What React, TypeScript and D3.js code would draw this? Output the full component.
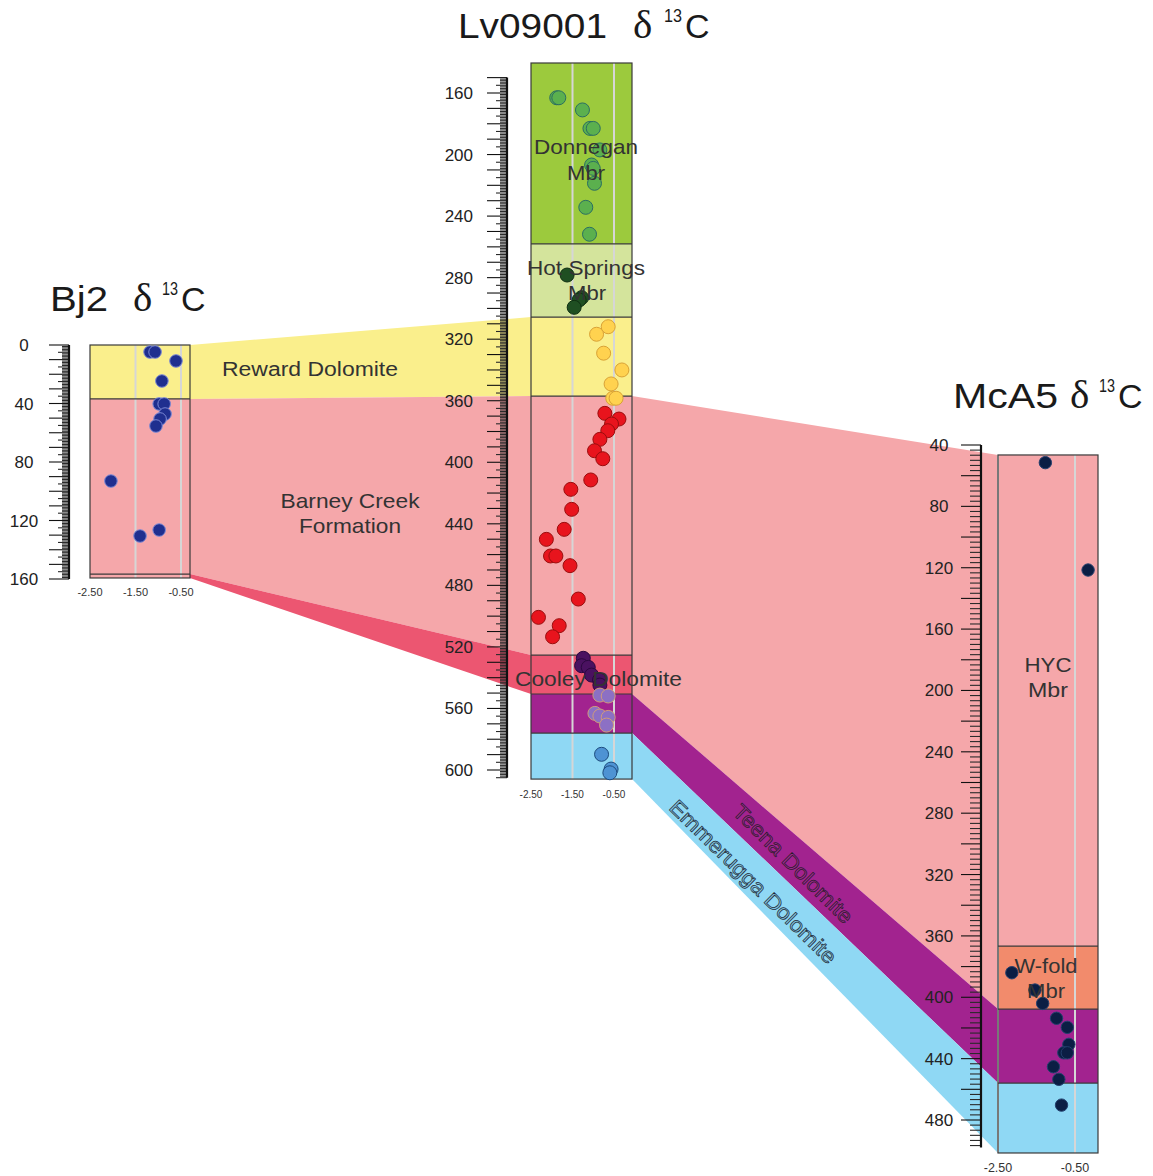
import React from 'react'
import * as d3 from 'd3'

// ---- data ----
const isoTicks = [-2.5, -1.5, -0.5]
const mcaIsoTicks = [-2.5, -0.5]
const bj2DepthTicks = [0, 40, 80, 120, 160]
const lvDepthTicks = [160, 200, 240, 280, 320, 360, 400, 440, 480, 520, 560, 600]
const mcaDepthTicks = [40, 80, 120, 160, 200, 240, 280, 320, 360, 400, 440, 480]

// unit tops/bases (depth, m)
const bj2Units = [
  { unit: 'reward', top: 0, base: 36.9 },
  { unit: 'barney', top: 36.9, base: 156.6 },
  { unit: 'cooley', top: 156.6, base: 159.3 },
]
const lvUnits = [
  { unit: 'donnegan', top: 140.5, base: 258.1 },
  { unit: 'hotsprings', top: 258.1, base: 305.6 },
  { unit: 'reward', top: 305.6, base: 357 },
  { unit: 'barney', top: 357, base: 525.3 },
  { unit: 'cooley', top: 525.3, base: 550.6 },
  { unit: 'teena', top: 550.6, base: 576 },
  { unit: 'emmerugga', top: 576, base: 605.9 },
]
const mcaUnits = [
  { unit: 'hyc', top: 46.5, base: 366.6 },
  { unit: 'wfold', top: 366.6, base: 407.7 },
  { unit: 'teena', top: 407.7, base: 455.9 },
  { unit: 'emmerugga', top: 455.9, base: 501.5 },
]

// correlation bands: [top, base] in left column -> [top, base] in right column
const leftBands = [
  { unit: 'reward', from: [0, 36.9], to: [305.6, 357] },
  { unit: 'barney', from: [36.9, 156.6], to: [357, 525.3] },
  { unit: 'cooley', from: [156.6, 159.3], to: [525.3, 550.6] },
]
const rightBands = [
  { unit: 'barney', from: [357, 550.6], to: [46.5, 407.7] },
  { unit: 'teena', from: [550.6, 576], to: [407.7, 455.9] },
  { unit: 'emmerugga', from: [576, 605.9], to: [455.9, 501.5] },
]

// samples: [depth, d13C]
const bj2Samples = [
  [4.8, -1.18], [4.8, -1.07], [10.9, -0.61], [24.6, -0.92], [40.3, -0.98], [40.3, -0.87],
  [47.2, -0.85], [50.6, -0.96], [55.4, -1.05], [93, -2.04], [126.5, -0.98], [130.6, -1.4],
]
const lvDonnegan = [
  [163.1, -1.88], [163.1, -1.83], [171, -1.26], [183, -1.08], [183, -1.0], [197, -0.84],
  [206.8, -1.04], [209, -1.0], [218.7, -0.97], [234.3, -1.18], [251.8, -1.09],
]
const lvHotSprings = [[278.3, -1.63], [293, -1.28], [294.5, -1.34], [299.3, -1.46]]
const lvReward = [
  [311.9, -0.64], [316.8, -0.92], [329.1, -0.75], [340, -0.31], [349.1, -0.57], [358.4, -0.53], [358.4, -0.45],
]
const lvBarney = [
  [368.2, -0.72], [371.9, -0.38], [375.1, -0.56], [379.5, -0.65], [385.1, -0.84], [392.5, -0.97],
  [397.7, -0.77], [411.5, -1.06], [417.6, -1.54], [430.6, -1.52], [443.6, -1.7], [450.1, -2.13],
  [460.9, -2.03], [460.9, -1.9], [467.2, -1.56], [488.9, -1.36], [500.8, -2.32], [506.2, -1.82], [513.4, -1.98],
]
const lvCooley = [[527.4, -1.24], [532.2, -1.28], [533.3, -1.12], [538.3, -1.04], [541.5, -0.85], [544.8, -0.84]]
const lvTeena = [[551.3, -0.84], [551.9, -0.64], [563.2, -0.96], [564.9, -0.84], [565.8, -0.64], [570.8, -0.68]]
const lvEmmerugga = [[589.8, -0.8], [599.4, -0.57], [601.8, -0.6]]
const mcaSamples = [
  [51.5, -1.27], [121.5, -0.16], [384, -2.14], [395.3, -1.54], [404, -1.34], [413.7, -0.98],
  [419.6, -0.7], [430.7, -0.66], [436.2, -0.79], [436.2, -0.7], [445.3, -1.06], [453.5, -0.92], [470.3, -0.85],
]

// ---- styles ----
const unitFill = {
  donnegan: '#9cca3d',
  hotsprings: '#d4e49c',
  reward: '#faef8c',
  barney: '#f5a7aa',
  hyc: '#f5a7aa',
  cooley: '#ec5671',
  teena: '#a2238f',
  emmerugga: '#8fd8f4',
  wfold: '#f28b6c',
}
const dotStyle = {
  bj2: { fill: '#1f2f8f', stroke: '#7d8ad6' },
  donnegan: { fill: '#5bb04e', stroke: '#2b6e62' },
  hotsprings: { fill: '#1f4f22', stroke: '#0f2f12' },
  reward: { fill: '#ffd24f', stroke: '#d9a236' },
  barney: { fill: '#e8141d', stroke: '#9a0d0d' },
  cooley: { fill: '#4a1160', stroke: '#2c0840' },
  teena: { fill: '#8c70c4', stroke: '#cf9b7c' },
  emmerugga: { fill: '#4e93d3', stroke: '#1e4c7e' },
  mca: { fill: '#0b1e44', stroke: '#23406e' },
}
const FONT = "'Liberation Sans', Arial, sans-serif"
const SERIF = "'Liberation Serif', 'Times New Roman', serif"

// ---- layout ----
const bj2 = {
  x: d3.scaleLinear().domain([-2.5, -0.5]).range([90, 181]),
  y: d3.scaleLinear().domain([0, 160]).range([345, 579]),
  left: 90, right: 190,
}
const lv = {
  x: d3.scaleLinear().domain([-2.5, -0.5]).range([531, 614]),
  y: d3.scaleLinear().domain([160, 600]).range([93, 770]),
  left: 531, right: 632,
}
const mca = {
  x: d3.scaleLinear().domain([-2.5, -0.5]).range([998, 1075]),
  y: d3.scaleLinear().domain([40, 480]).range([445, 1120]),
  left: 998, right: 1098,
}

const isMult = (v, s) => Math.abs(v / s - Math.round(v / s)) < 1e-6

function Ruler({ y, axisX, from, to, minor, mid, major, minorLen, ticks, labelX, anchor }) {
  const vals = d3.range(from, to + 1e-6, minor)
  return (
    <g>
      {vals.map((v, i) => {
        const len = isMult(v, major) ? 20 : mid && isMult(v, mid) ? 11 : minorLen
        return (
          <line key={i} x1={axisX - len} x2={axisX} y1={y(v)} y2={y(v)}
            stroke={len >= 20 ? '#111' : '#2a2a2a'} strokeWidth={1.1} />
        )
      })}
      <line x1={axisX} x2={axisX} y1={y(from)} y2={y(to)} stroke="#111" strokeWidth={2.2} />
      {ticks.map((t) => (
        <text key={t} x={labelX} y={y(t) + 6} fontSize={17} fontFamily={FONT}
          fill="#222" textAnchor={anchor}>{t}</text>
      ))}
    </g>
  )
}

function Column({ col, units, grid, isoLabels, labelY, labelSize, fillOverride = {} }) {
  const top = col.y(units[0].top)
  const bottom = col.y(units[units.length - 1].base)
  return (
    <g>
      {units.map((u) => (
        <rect key={u.unit} x={col.left} width={col.right - col.left}
          y={col.y(u.top)} height={col.y(u.base) - col.y(u.top)}
          fill={unitFill[fillOverride[u.unit] || u.unit]} />
      ))}
      {grid.map((g) => (
        <line key={g} x1={col.x(g)} x2={col.x(g)} y1={top} y2={bottom} stroke="#d6d6d6" strokeWidth={2} />
      ))}
      {units.slice(1).map((u) => (
        <line key={u.unit} x1={col.left} x2={col.right} y1={col.y(u.top)} y2={col.y(u.top)}
          stroke="#3a3a3a" strokeWidth={1.2} />
      ))}
      <rect x={col.left} y={top} width={col.right - col.left} height={bottom - top}
        fill="none" stroke="#3a3a3a" strokeWidth={1.2} />
      {isoLabels.map((t) => (
        <text key={t} x={col.x(t)} y={labelY} fontSize={labelSize} fontFamily={FONT}
          fill="#333" textAnchor="middle">{t.toFixed(2)}</text>
      ))}
    </g>
  )
}

function Dots({ col, samples, style, r }) {
  return (
    <g>
      {samples.map((s, i) => (
        <circle key={i} cx={col.x(s[1])} cy={col.y(s[0])} r={r}
          fill={style.fill} stroke={style.stroke} strokeWidth={1} />
      ))}
    </g>
  )
}

function Band({ a, b, xa, xb, from, to, fill }) {
  const pts = [
    [xa, a.y(from[0])], [xb, b.y(to[0])], [xb, b.y(to[1])], [xa, a.y(from[1])],
  ]
  return <path d={d3.line()(pts) + 'Z'} fill={fill} />
}

function Title({ name, nameX, nameLen, deltaX, supX, cX, baseline }) {
  return (
    <g fill="#1a1a1a">
      <text x={nameX} y={baseline} fontSize={35} fontFamily={FONT}
        textLength={nameLen} lengthAdjust="spacingAndGlyphs">{name}</text>
      <text x={deltaX} y={baseline} fontSize={41} fontFamily={SERIF}>δ</text>
      <text x={supX} y={baseline - 16} fontSize={19} fontFamily={FONT}
        textLength={cX - supX - 3} lengthAdjust="spacingAndGlyphs">13</text>
      <text x={cX} y={baseline} fontSize={34} fontFamily={FONT}>C</text>
    </g>
  )
}

function Label({ x, y, len, children, size = 21, anchor = 'middle', fill = '#333', stroke }) {
  return (
    <text x={x} y={y} fontSize={size} fontFamily={FONT} fill={fill} textAnchor={anchor}
      textLength={len} lengthAdjust="spacingAndGlyphs" stroke={stroke} strokeWidth={stroke ? 0.7 : 0}>
      {children}
    </text>
  )
}

export default function App() {
  return (
    <svg width={1153} height={1176} style={{ position: 'absolute', left: 0, top: 0, background: '#fff' }}>
      {/* correlation bands */}
      {leftBands.map((b) => (
        <Band key={'l' + b.unit} a={bj2} b={lv} xa={bj2.right} xb={lv.left}
          from={b.from} to={b.to} fill={unitFill[b.unit]} />
      ))}
      {rightBands.map((b) => (
        <Band key={'r' + b.unit} a={lv} b={mca} xa={lv.right} xb={mca.left}
          from={b.from} to={b.to} fill={unitFill[b.unit]} />
      ))}

      {/* columns */}
      <Column col={bj2} units={bj2Units} grid={[-1.5, -0.5]} isoLabels={isoTicks}
        labelY={596} labelSize={11} fillOverride={{ cooley: 'barney' }} />
      <Column col={lv} units={lvUnits} grid={[-1.5, -0.5]} isoLabels={isoTicks}
        labelY={798} labelSize={10} />
      <Column col={mca} units={mcaUnits} grid={[-2.5, -0.5]} isoLabels={mcaIsoTicks}
        labelY={1172} labelSize={12.5} />

      {/* samples */}
      <Dots col={bj2} samples={bj2Samples} style={dotStyle.bj2} r={6.3} />
      <Dots col={lv} samples={lvDonnegan} style={dotStyle.donnegan} r={7} />
      <Dots col={lv} samples={lvHotSprings} style={dotStyle.hotsprings} r={7} />
      <Dots col={lv} samples={lvReward} style={dotStyle.reward} r={7} />
      <Dots col={lv} samples={lvBarney} style={dotStyle.barney} r={7} />
      <Dots col={lv} samples={lvCooley} style={dotStyle.cooley} r={7} />
      <Dots col={lv} samples={lvTeena} style={dotStyle.teena} r={7} />
      <Dots col={lv} samples={lvEmmerugga} style={dotStyle.emmerugga} r={7} />
      <Dots col={mca} samples={mcaSamples} style={dotStyle.mca} r={6.2} />

      {/* unit names */}
      <Label x={310} y={376} len={176} size={20}>Reward Dolomite</Label>
      <Label x={350} y={508} len={139}>Barney Creek</Label>
      <Label x={350} y={533} len={102}>Formation</Label>
      <Label x={586} y={154} len={104}>Donnegan</Label>
      <Label x={586} y={180} len={38}>Mbr</Label>
      <Label x={586} y={275} len={118}>Hot Springs</Label>
      <Label x={587} y={300} len={38}>Mbr</Label>
      <Label x={515} y={686} len={167} anchor="start">Cooley Dolomite</Label>
      <Label x={1048} y={672} len={47}>HYC</Label>
      <Label x={1048} y={697} len={40}>Mbr</Label>
      <Label x={1046} y={973} len={63}>W-fold</Label>
      <Label x={1046} y={998} len={38}>Mbr</Label>
      <g transform="translate(793,864) rotate(44.7)">
        <Label x={0} y={7} len={159} size={21} fill="#9a2a8c" stroke="#2a1a2a">Teena Dolomite</Label>
      </g>
      <g transform="translate(753,882) rotate(44.4)">
        <Label x={0} y={7} len={224} size={21} fill="#7fc4e0" stroke="#1f2a38">Emmerugga Dolomite</Label>
      </g>

      {/* depth rulers */}
      <Ruler y={bj2.y} axisX={69} from={0} to={160} minor={1} mid={5} major={10} minorLen={7}
        ticks={bj2DepthTicks} labelX={24} anchor="middle" />
      <Ruler y={lv.y} axisX={507} from={150} to={605} minor={1} mid={5} major={10} minorLen={7}
        ticks={lvDepthTicks} labelX={473} anchor="end" />
      <Ruler y={mca.y} axisX={981} from={40} to={498} minor={10 / 3} mid={null} major={20} minorLen={11}
        ticks={mcaDepthTicks} labelX={939} anchor="middle" />

      {/* titles */}
      <Title name="Lv09001" nameX={458} nameLen={149} deltaX={633} supX={664} cX={685} baseline={38} />
      <Title name="Bj2" nameX={50} nameLen={58} deltaX={133} supX={162} cX={181} baseline={311} />
      <Title name="McA5" nameX={953} nameLen={105} deltaX={1070} supX={1099} cX={1118} baseline={408} />
    </svg>
  )
}
